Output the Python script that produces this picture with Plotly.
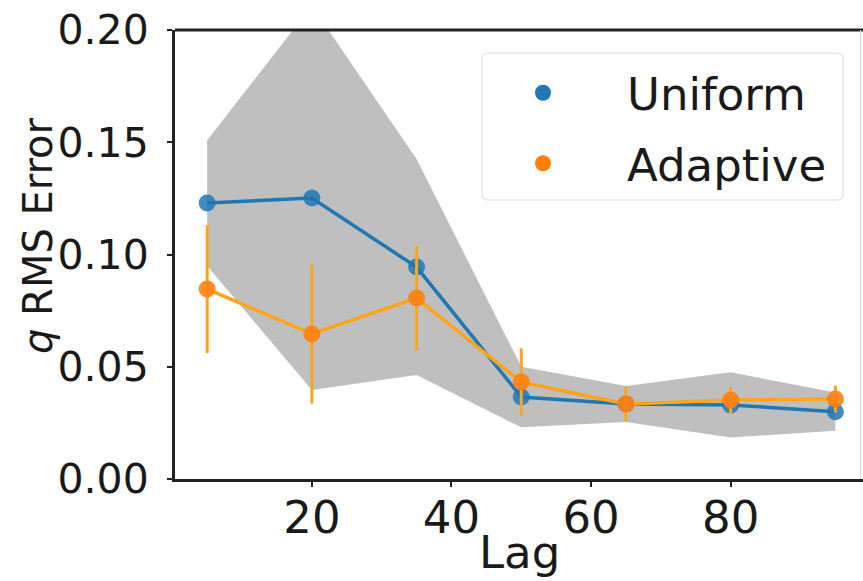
import plotly.graph_objects as go

# ---- data ----
lags = [5, 20, 35, 50, 65, 80, 95]
uniform_mean = [0.1229, 0.1252, 0.0944, 0.0365, 0.0334, 0.0330, 0.0300]
uniform_std = [0.0280, 0.0856, 0.0481, 0.0135, 0.0080, 0.0145, 0.0085]
adaptive_mean = [0.0846, 0.0646, 0.0806, 0.0432, 0.0334, 0.0352, 0.0356]
adaptive_std = [0.0285, 0.0310, 0.0232, 0.0150, 0.0078, 0.0060, 0.0060]
y_ticks = [0.0, 0.05, 0.10, 0.15, 0.20]
x_ticks = [20, 40, 60, 80]

BLUE = "#1f77b4"
ORANGE_MARK = "#ff7f0e"
ORANGE_LINE = "#ffa51c"
BAND = "#bfbfbf"
FONT = "DejaVu Sans"
FS = 45
FS_Y = 41

band_lo = [m - s for m, s in zip(uniform_mean, uniform_std)]
band_hi = [m + s for m, s in zip(uniform_mean, uniform_std)]

fig = go.Figure()

# grey band (Uniform spread)
fig.add_trace(go.Scatter(x=lags, y=band_lo, mode="lines", line=dict(width=0, color=BAND),
                         showlegend=False, hoverinfo="skip"))
fig.add_trace(go.Scatter(x=lags, y=band_hi, mode="lines", line=dict(width=0, color=BAND),
                         fill="tonexty", fillcolor=BAND, showlegend=False, hoverinfo="skip"))

# Uniform
fig.add_trace(go.Scatter(x=lags, y=uniform_mean, mode="lines+markers",
                         line=dict(color=BLUE, width=3.5),
                         marker=dict(color=BLUE, size=17, opacity=0.85),
                         showlegend=False, name="Uniform"))

# Adaptive
fig.add_trace(go.Scatter(x=lags, y=adaptive_mean, mode="lines+markers",
                         line=dict(color=ORANGE_LINE, width=3.5),
                         marker=dict(color=ORANGE_MARK, size=17, opacity=0.9),
                         error_y=dict(type="data", array=adaptive_std, visible=True,
                                      color=ORANGE_LINE, thickness=3, width=0),
                         showlegend=False, name="Adaptive"))

# legend entries (dots only)
fig.add_trace(go.Scatter(x=[None], y=[None], mode="markers", name="Uniform",
                         marker=dict(color=BLUE, size=16), legendgroup="u"))
fig.add_trace(go.Scatter(x=[None], y=[None], mode="markers", name="Adaptive",
                         marker=dict(color=ORANGE_MARK, size=16), legendgroup="a"))

W, H = 863, 581
ML, MR, MT, MB = 175, 0, 30, 102
pw = W - ML - MR
ph = H - MT - MB

def px_x(p):
    return (p - ML) / pw

def px_y(p):
    return (H - MB - p) / ph

fig.update_layout(
    width=W, height=H,
    margin=dict(l=ML, r=MR, t=MT, b=MB, pad=0, autoexpand=False),
    paper_bgcolor="white", plot_bgcolor="white",
    font=dict(family=FONT, size=FS, color="#1a1a1a"),
    showlegend=True,
    legend=dict(x=px_x(459), y=px_y(57), xanchor="left", yanchor="top",
                bgcolor="rgba(0,0,0,0)", borderwidth=0, itemwidth=158,
                tracegroupgap=9, font=dict(size=FS, family=FONT)),
    xaxis=dict(range=[0.39, 98.96], tickvals=x_ticks, ticktext=[str(v) for v in x_ticks],
               showgrid=False, zeroline=False, showline=True, linecolor="#222", linewidth=3,
               ticks="outside", ticklen=5, tickwidth=2, tickcolor="#222",
               tickfont=dict(size=FS), automargin=False, ticklabelstandoff=-8),
    yaxis=dict(range=[0, 0.20], tickvals=y_ticks, ticktext=[f"{v:.2f}" for v in y_ticks],
               showgrid=False, zeroline=False, showline=True, linecolor="#222", linewidth=3,
               ticks="outside", ticklen=5, tickwidth=2, tickcolor="#222",
               tickfont=dict(size=FS_Y), ticklabelstandoff=10, automargin=False),
    shapes=[
        dict(type="line", xref="paper", yref="paper", x0=0, x1=1, y0=1, y1=1,
             line=dict(color="#222", width=3)),
        dict(type="line", xref="paper", yref="paper", x0=px_x(860.5), x1=px_x(860.5), y0=0, y1=1,
             line=dict(color="#d4d4d4", width=1)),
        dict(type="path", xref="paper", yref="paper", layer="above",
             path=(f"M {px_x(488)} {px_y(53)} L {px_x(837)} {px_y(53)} "
                   f"Q {px_x(843)} {px_y(53)} {px_x(843)} {px_y(59)} "
                   f"L {px_x(843)} {px_y(194)} Q {px_x(843)} {px_y(200)} {px_x(837)} {px_y(200)} "
                   f"L {px_x(488)} {px_y(200)} Q {px_x(482)} {px_y(200)} {px_x(482)} {px_y(194)} "
                   f"L {px_x(482)} {px_y(59)} Q {px_x(482)} {px_y(53)} {px_x(488)} {px_y(53)} Z"),
             line=dict(color="#e6e6e6", width=1.5), fillcolor="rgba(255,255,255,0)"),
    ],
    annotations=[
        dict(text="<i>q</i> RMS Error", xref="paper", yref="paper",
             x=px_x(38), y=px_y(236), xanchor="center", yanchor="middle",
             textangle=-90, showarrow=False, font=dict(size=40, family=FONT, color="#1a1a1a")),
        dict(text="Lag", xref="paper", yref="paper",
             x=px_x(519), y=px_y(581), xanchor="center", yanchor="bottom",
             showarrow=False, font=dict(size=FS, family=FONT, color="#1a1a1a")),
    ],
)

fig.write_html("out.html")
